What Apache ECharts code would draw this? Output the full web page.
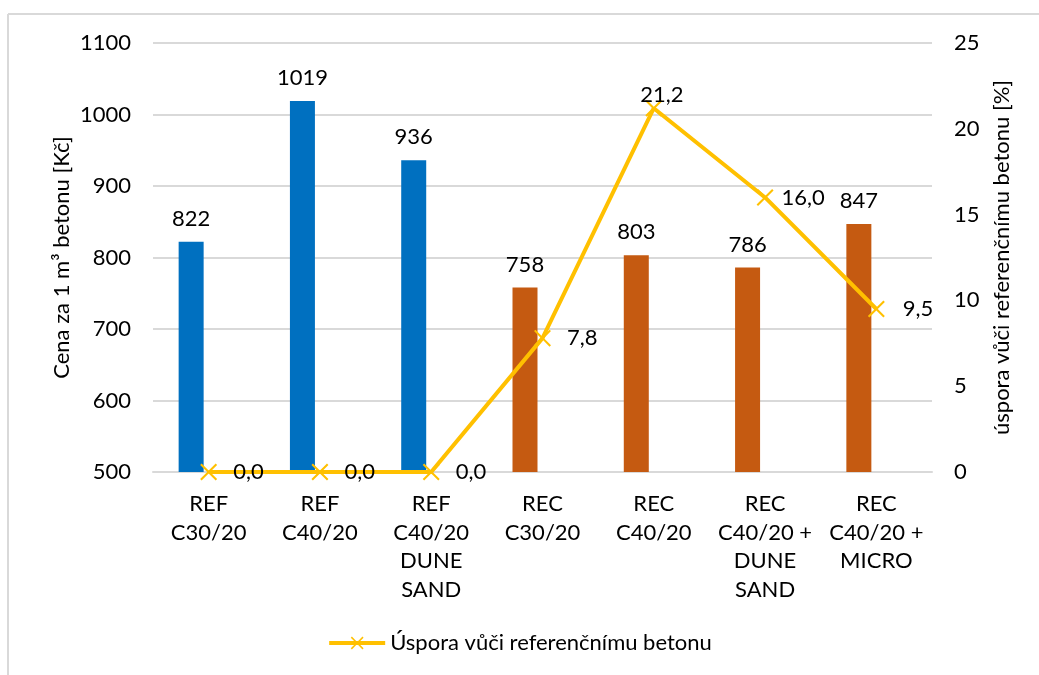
<!DOCTYPE html>
<html>
<head>
<meta charset="utf-8">
<script src="https://cdn.jsdelivr.net/npm/echarts@6/dist/echarts.min.js"></script>
<style>
  html, body { margin: 0; padding: 0; background: #fff; }
  #chart { width: 1039px; height: 675px; }
</style>
</head>
<body>
<div id="chart"></div>
<script>
// Concrete mixes compared
const categories = [
  'REF\nC30/20', 'REF\nC40/20', 'REF\nC40/20\nDUNE\nSAND',
  'REC\nC30/20', 'REC\nC40/20', 'REC\nC40/20 +\nDUNE\nSAND', 'REC\nC40/20 +\nMICRO'
];
// Price per m³ of concrete [Kč]
const priceValues = [822, 1019, 936, 758, 803, 786, 847];
// Reference mixes (blue) vs recycled mixes (orange)
const mixGroup = ['REF', 'REF', 'REF', 'REC', 'REC', 'REC', 'REC'];
// Saving relative to the reference concrete [%]
const savingValues = [0.0, 0.0, 0.0, 7.8, 21.2, 16.0, 9.5];
const savingLabelPos = ['right', 'right', 'right', 'right', 'top', 'right', 'right'];
const savingLabelDist = [16, 16, 16, 16, 0, 8, 18];

const leftTicks = { min: 500, max: 1100, interval: 100 };
const rightTicks = { min: 0, max: 25, interval: 5 };

const groupColor = { REF: '#0070C0', REC: '#C55A11' };
const FONT = 'Lato';
const TXT = '#000000';
const FS = 22;

// thin "x" marker outline
const crossPath = 'path://M0,1.2 L1.2,0 L7,5.8 L12.8,0 L14,1.2 L8.2,7 L14,12.8 L12.8,14 L7,8.2 L1.2,14 L0,12.8 L5.8,7 Z';

const chart = echarts.init(document.getElementById('chart'), null, { renderer: 'canvas' });

chart.setOption({
  backgroundColor: '#ffffff',
  animation: false,
  textStyle: { fontFamily: FONT, color: TXT },
  grid: { left: 153, right: 107, top: 43, bottom: 203 },
  legend: {
    data: ['Úspora vůči referenčnímu betonu'],
    bottom: 16,
    left: 'center',
    itemWidth: 56,
    itemHeight: 16,
    itemGap: 6,
    lineStyle: { width: 4, color: '#FFC000' },
    textStyle: { fontFamily: FONT, fontSize: FS, color: TXT }
  },
  xAxis: {
    type: 'category',
    data: categories,
    axisLine: { show: true, lineStyle: { color: '#d9d9d9', width: 2 } },
    axisTick: { show: false },
    axisLabel: {
      interval: 0,
      margin: 18,
      fontFamily: FONT,
      fontSize: FS,
      lineHeight: 28.5,
      color: TXT,
      align: 'center'
    }
  },
  yAxis: [
    {
      type: 'value',
      min: leftTicks.min,
      max: leftTicks.max,
      interval: leftTicks.interval,
      name: 'Cena za 1 m³ betonu [Kč]',
      nameLocation: 'middle',
      nameGap: 80,
      nameMoveOverlap: false,
      nameRotate: 90,
      nameTextStyle: { fontFamily: FONT, fontSize: FS, color: TXT },
      axisLine: { show: false },
      axisTick: { show: false },
      axisLabel: { fontFamily: FONT, fontSize: FS, color: TXT, margin: 22, formatter: v => String(v) },
      splitLine: { lineStyle: { color: '#d9d9d9', width: 2 } }
    },
    {
      type: 'value',
      min: rightTicks.min,
      max: rightTicks.max,
      interval: rightTicks.interval,
      name: 'úspora vůči referenčnímu betonu [%]',
      nameLocation: 'middle',
      nameGap: 55,
      nameRotate: 90,
      nameTextStyle: { fontFamily: FONT, fontSize: FS, color: TXT },
      axisLine: { show: false },
      axisTick: { show: false },
      axisLabel: { fontFamily: FONT, fontSize: FS, color: TXT, margin: 22, formatter: v => String(v) },
      splitLine: { show: false }
    }
  ],
  series: [
    {
      name: 'Cena',
      type: 'bar',
      yAxisIndex: 0,
      barWidth: 25,
      barGap: '40%',
      data: priceValues.map((v, i) => ({
        value: v,
        itemStyle: { color: groupColor[mixGroup[i]] }
      })),
      label: {
        show: true,
        position: 'top',
        distance: 12,
        fontFamily: FONT,
        fontSize: FS,
        color: TXT
      },
      z: 2
    },
    {
      name: 'spacer',
      type: 'bar',
      yAxisIndex: 0,
      barWidth: 25,
      data: priceValues.map(() => '-'),
      silent: true
    },
    {
      name: 'Úspora vůči referenčnímu betonu',
      type: 'line',
      yAxisIndex: 1,
      data: savingValues.map((v, i) => ({
        value: v,
        label: { position: savingLabelPos[i], distance: savingLabelDist[i], offset: savingLabelPos[i] === 'top' ? [8, 6] : [0, 0] }
      })),
      lineStyle: { color: '#FFC000', width: 4 },
      itemStyle: { color: '#FFC000' },
      symbol: crossPath,
      symbolSize: 17,
      showAllSymbol: true,
      label: {
        show: true,
        fontFamily: FONT,
        fontSize: FS,
        color: TXT,
        formatter: p => p.value.toFixed(1).replace('.', ',')
      },
      z: 5
    }
  ],
  graphic: [
    { type: 'line', shape: { x1: 8, y1: 14, x2: 1039, y2: 14 }, style: { stroke: '#d9d9d9', lineWidth: 2 } },
    { type: 'line', shape: { x1: 8, y1: 14, x2: 8, y2: 675 }, style: { stroke: '#d9d9d9', lineWidth: 2 } }
  ]
});
</script>
</body>
</html>
